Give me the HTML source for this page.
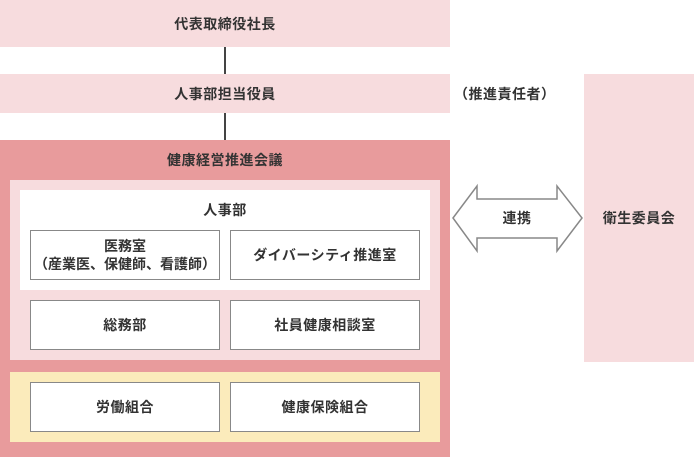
<!DOCTYPE html>
<html><head><meta charset="utf-8"><style>
body{margin:0;width:694px;height:457px;position:relative;background:#fff;font-family:"Liberation Sans","Noto Sans CJK JP",sans-serif;color:#333;font-size:14px;letter-spacing:0.5px;font-weight:bold;overflow:hidden}
div{position:absolute;box-sizing:border-box}
.c{display:flex;align-items:center;justify-content:center;text-align:center;line-height:18px}
.b{background:#fff;border:1px solid #888}
</style></head><body>
<div class="c" style="left:0;top:0;width:450px;height:47px;background:#f7dcde">代表取締役社長</div>
<div style="left:224px;top:47px;width:2px;height:27px;background:#444"></div>
<div class="c" style="left:0;top:74px;width:450px;height:39px;background:#f7dcde">人事部担当役員</div>
<div style="left:224px;top:113px;width:2px;height:27px;background:#444"></div>
<div class="c" style="left:454px;top:82px;height:24px">（推進責任者）</div>
<div style="left:0;top:140px;width:450px;height:317px;background:#e89b9c"></div>
<div class="c" style="left:0;top:148px;width:450px;height:24px">健康経営推進会議</div>
<div style="left:10px;top:180px;width:430px;height:180px;background:#f7dcde"></div>
<div style="left:20px;top:190px;width:410px;height:100px;background:#fff"></div>
<div class="c" style="left:20px;top:198px;width:410px;height:24px">人事部</div>
<div class="c b" style="left:30px;top:230px;width:190px;height:50px;letter-spacing:0">医務室<br>（産業医、保健師、看護師）</div>
<div class="c b" style="left:230px;top:230px;width:190px;height:50px">ダイバーシティ推進室</div>
<div class="c b" style="left:30px;top:300px;width:190px;height:50px">総務部</div>
<div class="c b" style="left:230px;top:300px;width:190px;height:50px">社員健康相談室</div>
<div style="left:10px;top:372px;width:430px;height:70px;background:#fbebbb"></div>
<div class="c b" style="left:30px;top:382px;width:190px;height:50px">労働組合</div>
<div class="c b" style="left:230px;top:382px;width:190px;height:50px">健康保険組合</div>
<div class="c" style="left:584px;top:74px;width:110px;height:288px;background:#f7dcde">衛生委員会</div>
<svg style="position:absolute;left:0;top:0" width="694" height="457"><polygon points="453,218 477,186 477,199 557,199 557,186 582,218 557,251 557,238 477,238 477,251" fill="#fff" stroke="#888" stroke-width="1.5"/></svg>
<div class="c" style="left:477px;top:206px;width:80px;height:24px">連携</div>
</body></html>
